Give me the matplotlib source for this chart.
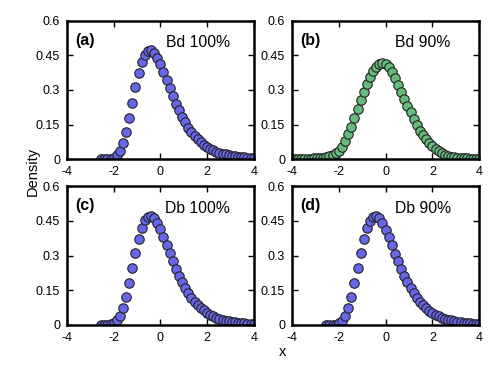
import matplotlib
matplotlib.use("Agg")
import matplotlib.pyplot as plt

plt.rcParams['font.family'] = ['Liberation Sans', 'DejaVu Sans']
plt.rcParams['axes.unicode_minus'] = False

# grid of x positions (step 8/60)
xs = [-4.0, -3.867, -3.733, -3.6, -3.467, -3.333, -3.2, -3.067, -2.933, -2.8,
      -2.667, -2.533, -2.4, -2.267, -2.133, -2.0, -1.867, -1.733, -1.6, -1.467,
      -1.333, -1.2, -1.067, -0.933, -0.8, -0.667, -0.533, -0.4, -0.267, -0.133,
      0.0, 0.133, 0.267, 0.4, 0.533, 0.667, 0.8, 0.933, 1.067, 1.2,
      1.333, 1.467, 1.6, 1.733, 1.867, 2.0, 2.133, 2.267, 2.4, 2.533,
      2.667, 2.8, 2.933, 3.067, 3.2, 3.333, 3.467, 3.6, 3.733, 3.867, 4.0]

# densities, starting at x = -2.533 for the skewed panels
bd100 = [0.000, 0.0001, 0.0005, 0.002, 0.006, 0.017, 0.037, 0.071, 0.119, 0.179,
         0.245, 0.312, 0.372, 0.420, 0.452, 0.469, 0.471, 0.460, 0.439, 0.411,
         0.378, 0.343, 0.308, 0.274, 0.241, 0.211, 0.184, 0.159, 0.137, 0.118,
         0.101, 0.086, 0.073, 0.062, 0.053, 0.045, 0.038, 0.032, 0.027, 0.023,
         0.020, 0.017, 0.014, 0.012, 0.010, 0.008, 0.007, 0.006, 0.005, 0.004]
db100 = [0.000, 0.0002, 0.001, 0.003, 0.008, 0.021, 0.040, 0.075, 0.123, 0.182,
         0.248, 0.313, 0.370, 0.418, 0.452, 0.468, 0.470, 0.462, 0.441, 0.414,
         0.381, 0.346, 0.310, 0.276, 0.243, 0.213, 0.185, 0.160, 0.138, 0.118,
         0.101, 0.087, 0.074, 0.063, 0.053, 0.045, 0.038, 0.032, 0.027, 0.023,
         0.019, 0.016, 0.014, 0.012, 0.010, 0.008, 0.007, 0.006, 0.005, 0.004]
db90 = [0.000, 0.0001, 0.0006, 0.002, 0.007, 0.018, 0.038, 0.072, 0.120, 0.180,
        0.246, 0.312, 0.371, 0.419, 0.451, 0.468, 0.470, 0.461, 0.440, 0.412,
        0.380, 0.345, 0.309, 0.275, 0.242, 0.212, 0.184, 0.159, 0.137, 0.118,
        0.101, 0.086, 0.073, 0.062, 0.053, 0.045, 0.038, 0.032, 0.027, 0.023,
        0.020, 0.017, 0.014, 0.012, 0.010, 0.008, 0.007, 0.006, 0.005, 0.004]
# full grid for Bd 90%
bd90 = [0.001, 0.001, 0.001, 0.001, 0.002, 0.002, 0.002, 0.003, 0.003, 0.004,
        0.006, 0.008, 0.012, 0.018, 0.026, 0.036, 0.053, 0.078, 0.108, 0.141,
        0.177, 0.216, 0.255, 0.292, 0.326, 0.355, 0.381, 0.400, 0.413, 0.418,
        0.412, 0.398, 0.378, 0.352, 0.322, 0.292, 0.262, 0.232, 0.203, 0.172,
        0.146, 0.122, 0.103, 0.086, 0.070, 0.057, 0.045, 0.035, 0.026, 0.019,
        0.014, 0.010, 0.008, 0.006, 0.005, 0.004, 0.003, 0.002, 0.002, 0.001, 0.001]

blue = '#6666e8'
green = '#66bb7c'

panels = [
    ('(a)', 'Bd 100%', xs[11:], bd100, blue),
    ('(b)', 'Bd 90%', xs, bd90, green),
    ('(c)', 'Db 100%', xs[11:], db100, blue),
    ('(d)', 'Db 90%', xs[11:], db90, blue),
]
boxes = [
    [0.1345, 0.578, 0.375, 0.367],
    [0.5863, 0.578, 0.376, 0.367],
    [0.1345, 0.138, 0.375, 0.368],
    [0.5863, 0.138, 0.376, 0.368],
]

fig = plt.figure(figsize=(4.98, 3.77), dpi=100)
for (tag, name, x, y, col), box in zip(panels, boxes):
    ax = fig.add_axes(box)
    ax.plot(x, y, 'o', ms=6.8, mfc=col, mec='#222222', mew=0.8)
    ax.set_xlim(-4, 4)
    ax.set_ylim(0, 0.6)
    ax.set_xticks([-4, -2, 0, 2, 4])
    ax.set_yticks([0, 0.15, 0.3, 0.45, 0.6])
    ax.set_yticklabels(['0', '0.15', '0.3', '0.45', '0.6'])
    ax.tick_params(direction='in', top=True, right=True, length=4, width=1,
                   labelsize=9, pad=5)
    for s in ax.spines.values():
        s.set_linewidth(1.8)
    ax.text(0.043, 0.86, tag, transform=ax.transAxes, fontsize=11.5,
            fontweight='bold', va='center')
    ax.text(0.70, 0.84, name, transform=ax.transAxes, fontsize=11.3,
            ha='center', va='center')

fig.text(0.066, 0.545, 'Density', rotation=90, ha='center', va='center', fontsize=10.5)
fig.text(0.568, 0.066, 'x', ha='center', va='center', fontsize=10.5)

fig.savefig('out.png', dpi=100)
